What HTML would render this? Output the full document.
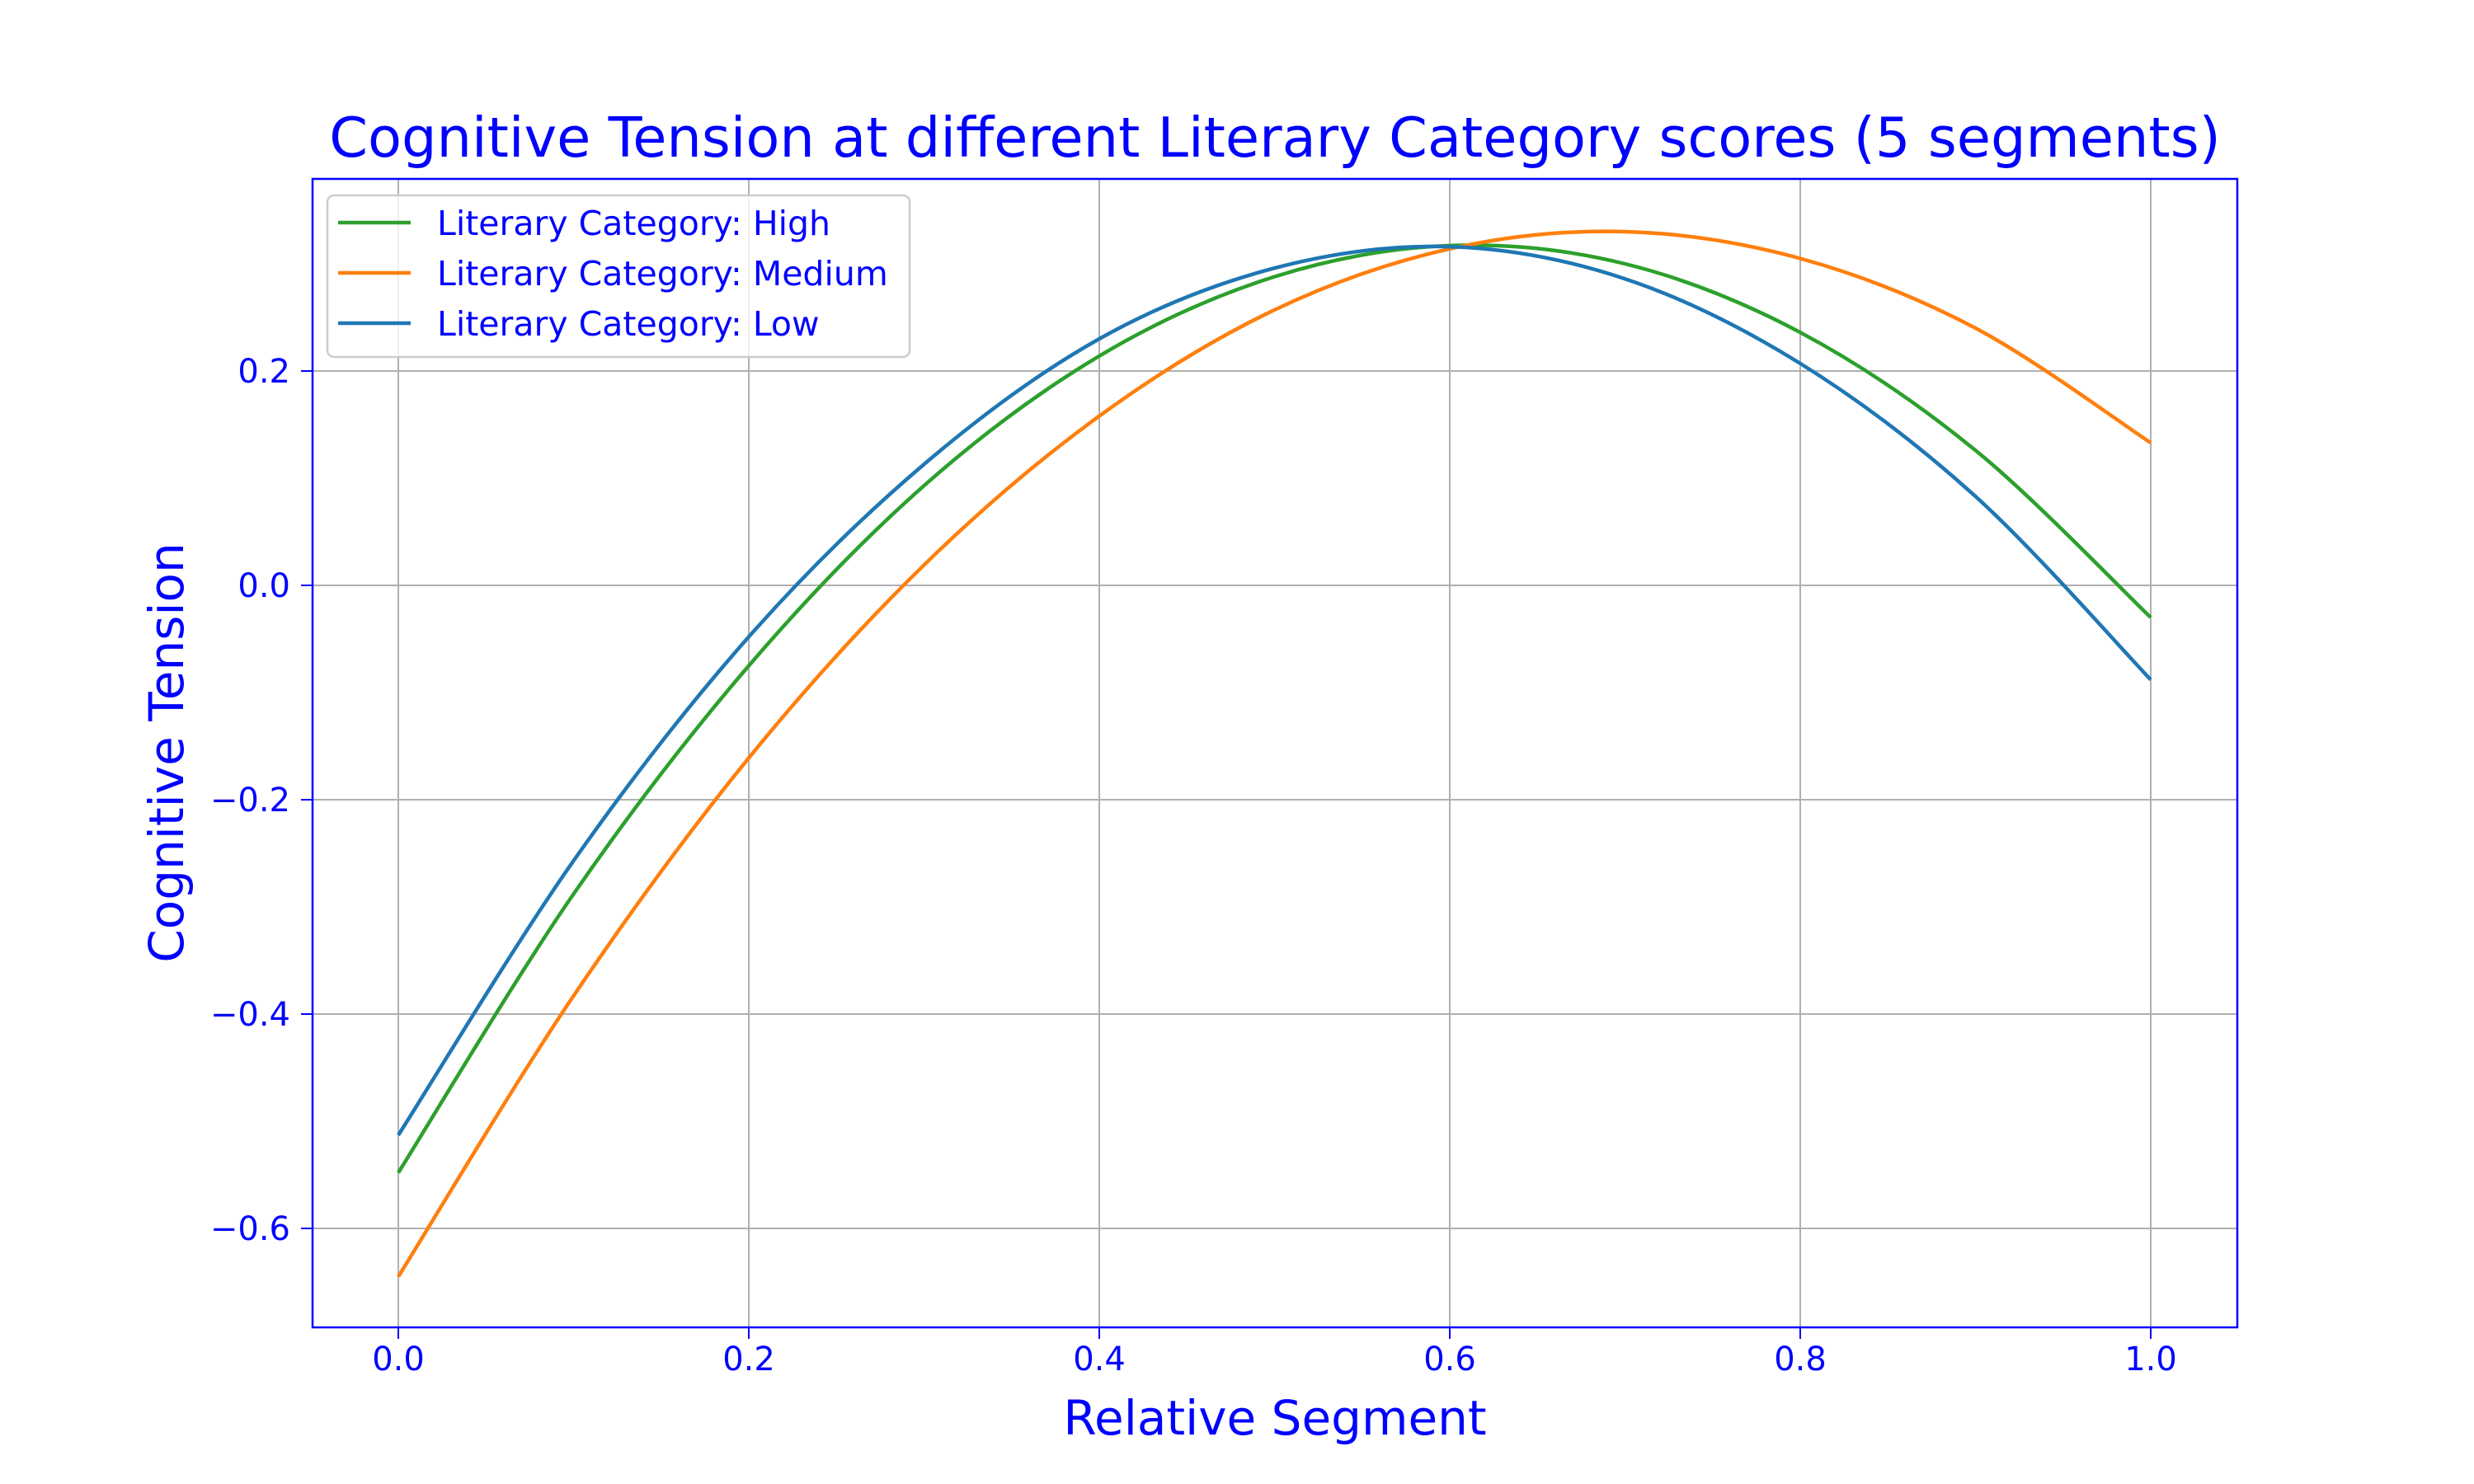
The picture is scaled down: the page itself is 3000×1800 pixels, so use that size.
<!DOCTYPE html>
<html><head><meta charset="utf-8"><style>
body{margin:0;background:#fff}
svg{display:block;font-family:"DejaVu Sans","Liberation Sans",sans-serif}
</style></head><body>
<svg id="chart" width="3000" height="1800" viewBox="0 0 3000 1800">
<rect width="3000" height="1800" fill="#fff"/>
<g id="grid"></g>
<g id="lines"></g>
<rect x="379" y="217" width="2334" height="1393" fill="none" stroke="#0000ff" stroke-width="2.5"/>
<g id="ticks"></g>
<text x="1546" y="190" text-anchor="middle" font-size="67" fill="#0000ff">Cognitive Tension at different Literary Category scores (5 segments)</text>
<text x="1546" y="1740" text-anchor="middle" font-size="58" fill="#0000ff">Relative Segment</text>
<text transform="translate(222,913) rotate(-90)" text-anchor="middle" font-size="58" fill="#0000ff">Cognitive Tension</text>
<g id="legend"></g>
</svg>
<script>
const xs=[0,0.1,0.2,0.3,0.4,0.5,0.6,0.7,0.8,0.9,1.0];
const highVals=[-0.548,-0.288,-0.075,0.093,0.214,0.288,0.317,0.300,0.236,0.126,-0.03];
const mediumVals=[-0.645,-0.383,-0.161,0.019,0.158,0.257,0.314,0.330,0.305,0.240,0.133];
const lowVals=[-0.513,-0.257,-0.048,0.113,0.230,0.296,0.316,0.286,0.207,0.083,-0.088];
const xTicks=[0,0.2,0.4,0.6,0.8,1.0];
const xTickLabels=["0.0","0.2","0.4","0.6","0.8","1.0"];
const yTicks=[-0.6,-0.4,-0.2,0,0.2];
const yTickLabels=["\u22120.6","\u22120.4","\u22120.2","0.0","0.2"];
const seriesNames=["Literary Category: High","Literary Category: Medium","Literary Category: Low"];
const seriesColors=["#2ca02c","#ff7f0e","#1f77b4"];
const NS="http://www.w3.org/2000/svg";
const X=v=>483+v*(2608-483);
const Y=v=>710-v*1300;
function mk(t,a,p){const e=document.createElementNS(NS,t);for(const k in a)e.setAttribute(k,a[k]);p.appendChild(e);return e;}
const grid=document.getElementById('grid'),ticks=document.getElementById('ticks');
xTicks.forEach((v,i)=>{
 const g=mk('line',{x1:X(v),x2:X(v),y1:217,y2:1610,stroke:'#b0b0b0','stroke-width':2},grid);
 
 
 const t=mk('line',{x1:X(v),x2:X(v),y1:1610,y2:1624,stroke:'#0000ff','stroke-width':2},ticks);
 
 
 const l=mk('text',{x:X(v),y:1662,'text-anchor':'middle','font-size':40,fill:'#0000ff'},ticks);
 l.textContent=xTickLabels[i];
 
 
});
yTicks.forEach((v,i)=>{
 const g=mk('line',{x1:379,x2:2713,y1:Y(v),y2:Y(v),stroke:'#b0b0b0','stroke-width':2},grid);
 
 
 const t=mk('line',{x1:365,x2:379,y1:Y(v),y2:Y(v),stroke:'#0000ff','stroke-width':2},ticks);
 
 
 const l=mk('text',{x:352,y:Y(v)+14,'text-anchor':'end','font-size':40,fill:'#0000ff'},ticks);
 l.textContent=yTickLabels[i];
 
 
});
function path(vals){
 const p=xs.map((x,i)=>[X(x),Y(vals[i])]);
 let d=`M${p[0][0]},${p[0][1]}`;
 for(let i=0;i<p.length-1;i++){
  const p0=p[i-1]||p[i],p1=p[i],p2=p[i+1],p3=p[i+2]||p[i+1];
  const c1=[p1[0]+(p2[0]-p0[0])/6,p1[1]+(p2[1]-p0[1])/6];
  const c2=[p2[0]-(p3[0]-p1[0])/6,p2[1]-(p3[1]-p1[1])/6];
  d+=` C${c1[0]},${c1[1]} ${c2[0]},${c2[1]} ${p2[0]},${p2[1]}`;
 }
 return d;
}
const lines=document.getElementById('lines');
[highVals,mediumVals,lowVals].forEach((vals,i)=>{
 const e=mk('path',{d:path(vals),fill:'none',stroke:seriesColors[i],'stroke-width':4.5},lines);
 
 
});
const lg=document.getElementById('legend');
const box=mk('rect',{x:397,y:237,width:706,height:196,rx:8,fill:'#fff','fill-opacity':0.8,stroke:'#cccccc','stroke-width':2.5},lg);


seriesNames.forEach((n,i)=>{
 const y=270+i*61;
 const l=mk('line',{x1:410,x2:498,y1:y,y2:y,stroke:seriesColors[i],'stroke-width':4.5},lg);
 
 
 const t=mk('text',{x:530,y:y+15,'font-size':41,fill:'#0000ff'},lg);
 t.textContent=n;
 
 
});
</script>
</body></html>
